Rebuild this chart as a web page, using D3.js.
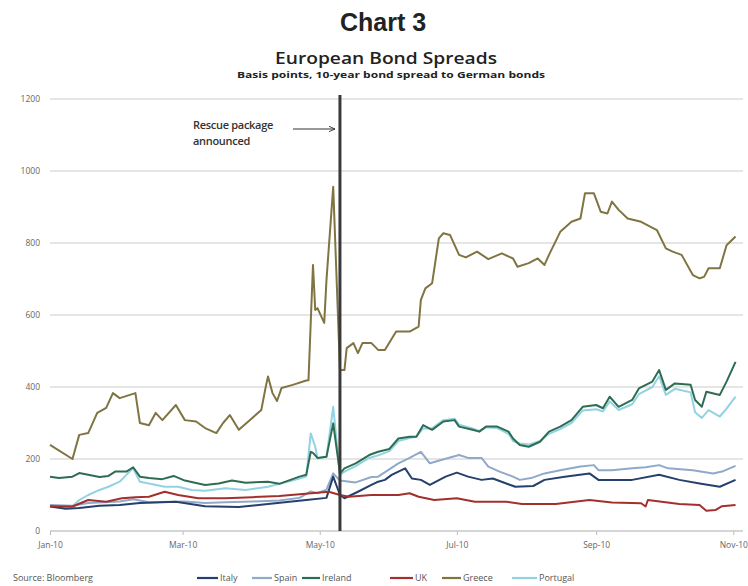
<!DOCTYPE html>
<html>
<head>
<meta charset="utf-8">
<script src="https://cdn.jsdelivr.net/npm/d3@7"></script>
<style>
  html, body { margin: 0; padding: 0; background: #fff; }
  svg { display: block; }
</style>
</head>
<body>
<div id="chart"></div>
<script>
// ---------------- DATA ----------------
const seriesNames = ["Italy", "Spain", "Ireland", "UK", "Greece", "Portugal"];
const yTicks = [0, 200, 400, 600, 800, 1000, 1200];
const xTickDates = ["2010-01-01", "2010-03-01", "2010-05-01", "2010-07-01", "2010-09-01", "2010-11-01"];
const rescueDate = "2010-05-10";

const greeceDates = ["2010-01-01","2010-01-11","2010-01-14","2010-01-18","2010-01-22","2010-01-26","2010-01-29","2010-02-01","2010-02-08","2010-02-10","2010-02-14","2010-02-17","2010-02-20","2010-02-26","2010-03-02","2010-03-07","2010-03-11","2010-03-16","2010-03-19","2010-03-22","2010-03-26","2010-04-01","2010-04-05","2010-04-07","2010-04-08","2010-04-10","2010-04-12","2010-04-14","2010-04-19","2010-04-25","2010-04-26","2010-04-28","2010-04-29","2010-04-30","2010-05-03","2010-05-04","2010-05-07","2010-05-10","2010-05-12","2010-05-13","2010-05-16","2010-05-18","2010-05-20","2010-05-24","2010-05-27","2010-05-30","2010-06-04","2010-06-10","2010-06-14","2010-06-15","2010-06-17","2010-06-20","2010-06-23","2010-06-25","2010-06-28","2010-07-02","2010-07-05","2010-07-10","2010-07-15","2010-07-21","2010-07-26","2010-07-28","2010-08-02","2010-08-06","2010-08-09","2010-08-11","2010-08-16","2010-08-21","2010-08-25","2010-08-27","2010-08-31","2010-09-03","2010-09-06","2010-09-08","2010-09-11","2010-09-15","2010-09-21","2010-09-28","2010-10-02","2010-10-05","2010-10-09","2010-10-14","2010-10-17","2010-10-19","2010-10-21","2010-10-26","2010-10-29","2010-11-02"];
const greeceValues = [239,200,267,272,328,342,383,369,383,300,294,328,308,350,308,304,286,272,300,322,281,314,336,401,429,383,361,397,406,418,419,739,614,619,578,697,956,447,447,508,522,494,522,522,503,503,554,554,568,642,674,688,813,827,822,767,760,776,755,771,757,734,744,757,739,767,831,859,868,938,938,887,882,915,892,868,859,836,785,776,767,711,702,706,730,730,794,818];

const irelandDates = ["2010-01-01","2010-01-05","2010-01-11","2010-01-14","2010-01-18","2010-01-23","2010-01-27","2010-01-30","2010-02-04","2010-02-07","2010-02-10","2010-02-14","2010-02-20","2010-02-25","2010-03-02","2010-03-11","2010-03-17","2010-03-23","2010-03-29","2010-04-08","2010-04-13","2010-04-22","2010-04-25","2010-04-27","2010-04-28","2010-04-30","2010-05-04","2010-05-07","2010-05-10","2010-05-12","2010-05-17","2010-05-23","2010-05-27","2010-06-01","2010-06-05","2010-06-10","2010-06-13","2010-06-16","2010-06-20","2010-06-25","2010-06-30","2010-07-02","2010-07-08","2010-07-11","2010-07-14","2010-07-19","2010-07-24","2010-07-26","2010-07-29","2010-08-02","2010-08-07","2010-08-11","2010-08-16","2010-08-21","2010-08-26","2010-09-01","2010-09-04","2010-09-07","2010-09-11","2010-09-17","2010-09-20","2010-09-26","2010-09-29","2010-10-02","2010-10-06","2010-10-13","2010-10-15","2010-10-18","2010-10-20","2010-10-26","2010-10-29","2010-11-02"];
const irelandValues = [151,147,151,161,156,150,153,165,165,177,151,147,144,153,140,128,132,140,134,137,131,151,156,220,217,203,206,299,160,174,188,211,220,228,257,262,262,294,281,304,308,290,281,276,290,290,276,257,239,234,248,276,290,308,345,350,341,373,345,364,396,415,447,392,410,406,364,345,387,378,415,470];

const portugalDates = ["2010-01-01","2010-01-08","2010-01-11","2010-01-14","2010-01-18","2010-01-23","2010-01-27","2010-02-01","2010-02-04","2010-02-07","2010-02-10","2010-02-14","2010-02-21","2010-02-27","2010-03-05","2010-03-11","2010-03-20","2010-03-29","2010-04-08","2010-04-20","2010-04-25","2010-04-27","2010-04-29","2010-04-30","2010-05-04","2010-05-07","2010-05-10","2010-05-12","2010-05-17","2010-05-23","2010-05-27","2010-06-01","2010-06-05","2010-06-10","2010-06-13","2010-06-16","2010-06-20","2010-06-25","2010-06-30","2010-07-02","2010-07-08","2010-07-11","2010-07-14","2010-07-19","2010-07-24","2010-07-26","2010-07-29","2010-08-02","2010-08-07","2010-08-11","2010-08-16","2010-08-21","2010-08-26","2010-09-01","2010-09-04","2010-09-07","2010-09-11","2010-09-17","2010-09-20","2010-09-26","2010-09-29","2010-10-02","2010-10-06","2010-10-13","2010-10-15","2010-10-18","2010-10-21","2010-10-26","2010-10-29","2010-11-02"];
const portugalValues = [72,64,68,86,100,114,123,137,156,174,137,132,123,123,114,112,119,114,123,142,151,271,234,202,206,345,156,165,180,203,210,222,250,258,262,285,285,308,312,295,285,278,288,286,270,250,243,240,250,270,283,300,335,338,332,360,336,352,380,400,430,378,395,385,330,314,336,318,340,373];

const spainDates = ["2010-01-01","2010-01-11","2010-01-18","2010-02-01","2010-02-07","2010-02-14","2010-03-02","2010-03-11","2010-03-20","2010-04-01","2010-04-13","2010-04-22","2010-04-27","2010-04-30","2010-05-04","2010-05-07","2010-05-10","2010-05-17","2010-05-24","2010-05-27","2010-06-05","2010-06-10","2010-06-15","2010-06-19","2010-06-24","2010-07-02","2010-07-06","2010-07-12","2010-07-15","2010-07-20","2010-07-26","2010-07-29","2010-08-03","2010-08-09","2010-08-16","2010-08-25","2010-08-31","2010-09-02","2010-09-08","2010-09-17","2010-09-23","2010-09-29","2010-10-03","2010-10-14","2010-10-23","2010-10-27","2010-11-02"];
const spainValues = [72,70,78,82,88,80,82,78,80,82,85,92,110,105,115,160,140,135,150,151,188,203,220,188,197,211,203,203,179,165,151,142,147,160,169,179,183,169,169,174,177,183,174,169,160,165,181];

const italyDates = ["2010-01-01","2010-01-08","2010-01-14","2010-01-23","2010-02-01","2010-02-10","2010-02-26","2010-03-11","2010-03-26","2010-04-08","2010-04-25","2010-05-04","2010-05-07","2010-05-10","2010-05-12","2010-05-18","2010-05-24","2010-05-27","2010-05-30","2010-06-02","2010-06-08","2010-06-11","2010-06-15","2010-06-19","2010-06-26","2010-07-01","2010-07-06","2010-07-12","2010-07-17","2010-07-23","2010-07-27","2010-08-04","2010-08-09","2010-08-18","2010-08-29","2010-09-02","2010-09-08","2010-09-17","2010-09-29","2010-10-08","2010-10-17","2010-10-26","2010-11-02"];
const italyValues = [68,62,64,70,72,78,81,69,67,75,86,92,151,100,91,109,128,137,142,156,174,146,142,128,151,162,151,142,146,132,123,125,142,151,160,142,142,142,156,142,132,123,142];

const ukDates = ["2010-01-01","2010-01-11","2010-01-18","2010-01-26","2010-02-02","2010-02-08","2010-02-14","2010-02-21","2010-02-27","2010-03-08","2010-03-20","2010-04-01","2010-04-13","2010-05-05","2010-05-10","2010-05-14","2010-05-24","2010-06-01","2010-06-05","2010-06-10","2010-06-14","2010-06-21","2010-07-01","2010-07-09","2010-07-23","2010-07-30","2010-08-14","2010-08-29","2010-09-08","2010-09-21","2010-09-23","2010-09-24","2010-10-08","2010-10-17","2010-10-20","2010-10-24","2010-10-27","2010-11-02"];
const ukValues = [69,68,86,81,91,94,95,109,100,91,91,94,97,109,100,95,100,100,100,105,95,86,91,81,81,75,75,86,79,77,68,86,75,72,56,58,69,72];

const colors = {
  Italy: "#25406d",
  Spain: "#8fa9cb",
  Ireland: "#2e6d52",
  UK: "#a3302c",
  Greece: "#7f7442",
  Portugal: "#92d3e3"
};

// ---------------- CHART ----------------
const W = 748, H = 586;
const parse = d3.utcParse("%Y-%m-%d");
const svg = d3.select("#chart").append("svg").attr("width", W).attr("height", H);

const x = d3.scaleUtc().domain([parse("2010-01-01"), parse("2010-11-01")]).range([50, 733.3]);
const y = d3.scaleLinear().domain([0, 1200]).range([531, 99]);
const gridRight = 743;

// titles
svg.append("text").attr("x", 383).attr("y", 31).attr("text-anchor", "middle")
  .attr("font-family", "Liberation Sans, Arial, sans-serif").attr("font-weight", "bold")
  .attr("font-size", 25).attr("fill", "#222").text("Chart 3");
svg.append("text").attr("x", 275).attr("y", 64)
  .attr("font-family", "Open Sans, sans-serif").attr("font-weight", 600)
  .attr("font-size", 16.5).attr("fill", "#222")
  .attr("textLength", 222).attr("lengthAdjust", "spacingAndGlyphs").text("European Bond Spreads");
svg.append("text").attr("x", 237).attr("y", 78)
  .attr("font-family", "Open Sans, sans-serif").attr("font-weight", 700)
  .attr("font-size", 9.5).attr("fill", "#222")
  .attr("textLength", 308).attr("lengthAdjust", "spacingAndGlyphs")
  .text("Basis points,  10-year bond spread to German bonds");

// gridlines
svg.append("g").selectAll("line").data(yTicks.filter(d => d > 0)).join("line")
  .attr("x1", 50).attr("x2", gridRight).attr("y1", d => y(d)).attr("y2", d => y(d))
  .attr("stroke", "#dcdcdc").attr("stroke-width", 1.5);

// y axis labels
const yAxis = svg.append("g").attr("transform", "translate(45,0)")
  .call(d3.axisLeft(y).tickValues(yTicks).tickSize(0).tickPadding(5).tickFormat(d3.format("d")));
yAxis.select(".domain").remove();
yAxis.selectAll("text").attr("font-family", "Open Sans, sans-serif").attr("font-size", 8.5).attr("fill", "#666");

// x axis
const xAxisG = svg.append("g").attr("transform", `translate(0,${y(0)})`)
  .call(d3.axisBottom(x).tickValues(xTickDates.map(parse)).tickSize(4).tickPadding(7)
    .tickFormat(d3.utcFormat("%b-%y")));
xAxisG.select(".domain").remove();
xAxisG.selectAll("line").attr("stroke", "#bbb");
xAxisG.selectAll("text").attr("font-family", "Open Sans, sans-serif").attr("font-size", 8.5).attr("fill", "#666");
svg.append("line").attr("x1", 50).attr("x2", gridRight).attr("y1", y(0)).attr("y2", y(0))
  .attr("stroke", "#c8c8c8").attr("stroke-width", 1.5);

// lines
const line = d3.line().x(d => x(d[0])).y(d => y(d[1]));
const series = {
  Italy: [italyDates, italyValues],
  Spain: [spainDates, spainValues],
  Ireland: [irelandDates, irelandValues],
  UK: [ukDates, ukValues],
  Greece: [greeceDates, greeceValues],
  Portugal: [portugalDates, portugalValues]
};
const drawOrder = ["Portugal", "Spain", "Italy", "UK", "Ireland", "Greece"];
drawOrder.forEach(name => {
  const [ds, vs] = series[name];
  const pts = ds.map((d, i) => [parse(d), vs[i]]);
  svg.append("path").datum(pts).attr("d", line)
    .attr("fill", "none").attr("stroke", colors[name]).attr("stroke-width", 2)
    .attr("stroke-linejoin", "round");
});

// rescue line
const rx = x(parse(rescueDate));
svg.append("line").attr("x1", rx).attr("x2", rx).attr("y1", 95).attr("y2", y(0))
  .attr("stroke", "#3a3a3a").attr("stroke-width", 3);

// annotation
const ann = svg.append("g").attr("font-family", "Open Sans, sans-serif").attr("font-weight", 600)
  .attr("font-size", 11).attr("fill", "#333");
ann.append("text").attr("x", 193).attr("y", 129).attr("letter-spacing", -0.3).text("Rescue package");
ann.append("text").attr("x", 193).attr("y", 145).attr("letter-spacing", -0.3).text("announced");
svg.append("defs").append("marker").attr("id", "arr").attr("viewBox", "0 0 10 10")
  .attr("refX", 9).attr("refY", 5).attr("markerWidth", 7).attr("markerHeight", 7).attr("orient", "auto")
  .append("path").attr("d", "M0,1 L9,5 L0,9").attr("fill", "none").attr("stroke", "#333").attr("stroke-width", 1.3);
svg.append("line").attr("x1", 293).attr("x2", 335).attr("y1", 129).attr("y2", 129)
  .attr("stroke", "#333").attr("stroke-width", 1).attr("marker-end", "url(#arr)");

// source
svg.append("text").attr("x", 13).attr("y", 581).attr("font-family", "Open Sans, sans-serif")
  .attr("font-size", 9).attr("fill", "#555").text("Source: Bloomberg");

// legend
const legendPos = [
  { name: "Italy", x1: 197, x2: 218 },
  { name: "Spain", x1: 252, x2: 272 },
  { name: "Ireland", x1: 302, x2: 320 },
  { name: "UK", x1: 390, x2: 413 },
  { name: "Greece", x1: 442, x2: 461 },
  { name: "Portugal", x1: 512, x2: 537 }
];
const lg = svg.append("g");
legendPos.forEach(p => {
  lg.append("line").attr("x1", p.x1).attr("x2", p.x2).attr("y1", 578).attr("y2", 578)
    .attr("stroke", colors[p.name]).attr("stroke-width", 2.2);
  lg.append("text").attr("x", p.x2 + 2).attr("y", 581).attr("font-family", "Open Sans, sans-serif")
    .attr("font-size", 9).attr("fill", "#555").text(p.name);
});
</script>
</body>
</html>
